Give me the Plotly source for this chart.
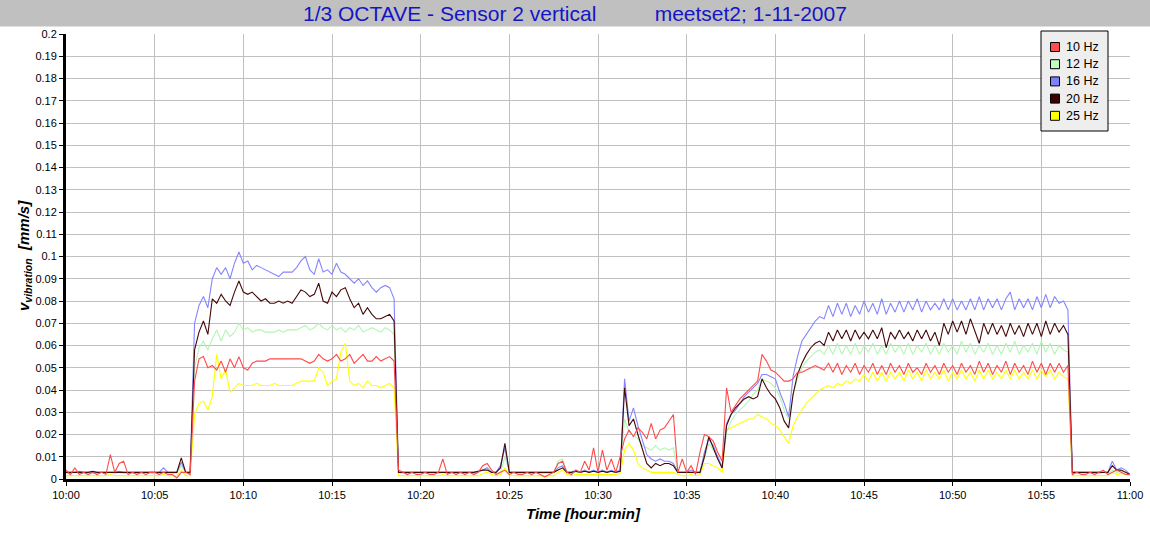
import plotly.graph_objects as go

# Sampling grid: one sample every 15 s, minutes after 10:00
N_SAMPLES = 241
t_min = [i * 0.25 for i in range(N_SAMPLES)]

x_tickvals = [0, 5, 10, 15, 20, 25, 30, 35, 40, 45, 50, 55, 60]
x_ticktext = ["10:00", "10:05", "10:10", "10:15", "10:20", "10:25", "10:30",
              "10:35", "10:40", "10:45", "10:50", "10:55", "11:00"]
y_tickvals = [round(i * 0.01, 2) for i in range(21)]
y_ticktext = ["0", "0.01", "0.02", "0.03", "0.04", "0.05", "0.06", "0.07", "0.08", "0.09",
              "0.1", "0.11", "0.12", "0.13", "0.14", "0.15", "0.16", "0.17", "0.18", "0.19", "0.2"]

series_names = ["10 Hz", "12 Hz", "16 Hz", "20 Hz", "25 Hz"]

# values in 0.001 mm/s
hz10 = [
    4, 2, 5, 2, 3, 2, 3, 2, 3, 2, 11, 3, 7, 8, 2, 3, 2, 3, 2, 3, 3, 2, 3, 2, 2, 0.5, 3, 3, 2,
    44, 54, 55, 50, 51, 49, 53, 48, 54, 50, 55, 50, 49, 52, 53, 53, 53, 54, 54, 54, 54, 54, 54, 54, 54,
    53, 52, 53, 56, 54, 53, 54, 56, 53, 54, 56, 52, 54, 56, 53, 53, 55, 53, 54, 55, 53,
    4, 3, 2, 3, 2, 2, 3, 2, 2, 3, 9, 2, 3, 2, 3, 2, 3, 2, 3, 6, 7, 4, 2, 3, 4, 2, 3, 2, 2, 3,
    2, 3, 2, 1, 2, 3, 7, 8, 3, 2, 4, 3, 8, 4, 14, 3, 13, 4, 9, 3, 10,
    18, 22, 19, 23, 21, 18, 25, 18, 22, 23, 26, 29, 3, 9, 3, 6, 2, 12, 20, 19,
    17, 12, 8, 41, 30, 33, 36, 38, 40, 42, 44, 56, 53, 49, 48, 46, 44, 44, 45, 48,
    48, 49, 50, 51, 50, 49, 52, 48, 52, 47, 51, 48, 52, 47, 51, 48, 52, 47, 51, 47,
    52, 48, 51, 47, 52, 48, 50, 47, 52, 48, 51, 47, 52, 48, 51, 47, 52, 48, 51, 47,
    53, 48, 52, 47, 51, 48, 53, 47, 52, 48, 51, 47, 53, 48, 52, 47, 52, 48, 52, 48, 51,
    2, 3, 2, 2, 3, 2, 3, 4, 2, 3, 4, 3, 2, 2,
]
hz12 = [
    2.5, 2.5, 3, 2.5, 2.5, 2, 2.5, 2.5, 3, 2.5, 3, 2.5, 3, 2.5, 2.5, 2.5, 2.5, 2.5, 3, 2.5,
    2.5, 2.5, 3.5, 2.5, 2.5, 2.5, 6, 3, 2.5,
    50, 59, 62, 58, 63, 67, 62, 67, 64, 66, 70, 67, 68, 66, 67, 67, 66, 66, 66, 67, 66, 67, 67, 67, 68,
    69, 67, 68, 70, 68, 67, 69, 67, 68, 66, 68, 67, 69, 66, 67, 68, 67, 66, 68, 67, 65,
    3, 2.5, 2.5, 2.5, 2.5, 2.5, 2.5, 2.5, 2.5, 2.5, 3, 2.5, 2.5, 2.5, 2.5, 2.5, 3, 2.5, 3, 4,
    5, 3, 2.5, 3, 10, 3, 2.5, 2.5, 2.5, 2.5, 2.5, 2.5, 2.5, 2.5, 2.5, 3, 8, 9, 3, 2.5,
    3, 3, 4, 3, 4, 3, 4, 3, 3.5, 3, 4,
    27, 21, 20, 18, 15, 14, 13, 15, 13, 14, 13, 14, 3, 3, 3, 3, 3, 2.5, 9, 16,
    13, 10, 6, 21, 26, 29, 31, 33, 35, 38, 40, 45, 44, 43, 41, 37, 31, 27, 38, 45,
    50, 53, 55, 57, 58, 56, 60, 56, 61, 56, 60, 56, 61, 56, 60, 57, 61, 56, 60, 56,
    61, 57, 60, 56, 61, 56, 60, 57, 61, 56, 60, 56, 61, 57, 60, 56, 62, 57, 61, 56,
    60, 57, 61, 56, 60, 56, 61, 57, 62, 56, 60, 57, 61, 56, 62, 57, 61, 56, 60, 58, 57,
    2.5, 2.5, 2.5, 2.5, 2.5, 2.5, 2.5, 3, 2.5, 4, 3, 3.5, 3, 2.5,
]
hz16 = [
    3, 3, 3, 3.5, 3, 3, 3, 3, 3, 3, 3, 3, 3.5, 3, 3, 3, 3, 3, 3, 3, 3, 3, 5, 3, 3, 3, 7.5, 3, 3,
    70, 78, 82, 77, 90, 95, 92, 95, 90, 97, 102, 97, 98, 94, 96, 95, 94, 93, 92, 91, 93, 93, 93, 95, 98,
    100, 94, 92, 99, 93, 94, 92, 97, 93, 92, 90, 88, 90, 87, 89, 86, 84, 86, 87, 86, 81,
    3, 3, 3, 3, 3, 3, 3, 3, 3, 3, 3, 3, 3, 3, 3, 3, 3, 3, 3.5, 4,
    5, 3, 3, 6, 14, 3, 3, 3, 3, 3, 3, 3, 3, 3, 3, 3, 5, 6, 3, 3,
    4, 3, 4, 3, 4, 3, 4, 3, 4, 3, 4,
    45, 26, 32, 24, 18, 11, 9, 8, 9, 8, 8, 7, 3, 3, 3, 4, 3, 3, 12, 18,
    15, 10, 5, 25, 29, 31, 34, 37, 39, 41, 43, 47, 47, 46, 45, 39, 34, 28, 46, 55,
    62, 65, 68, 71, 73, 72, 78, 73, 79, 74, 79, 73, 78, 74, 80, 75, 79, 74, 81, 74,
    79, 75, 80, 75, 80, 76, 81, 75, 80, 76, 79, 76, 81, 76, 81, 76, 80, 76, 81, 76,
    82, 76, 81, 77, 81, 76, 81, 84, 76, 81, 77, 81, 76, 82, 77, 83, 77, 82, 79, 80, 76,
    3, 3, 3, 3, 3, 3, 3, 3, 3, 8, 4, 5, 4, 2,
]
hz20 = [
    3, 3, 3, 3, 3, 3, 3.5, 3, 3, 3, 3, 3, 3, 3, 3, 3, 3, 3, 3, 3, 3, 3, 3, 3, 3, 3, 9.5, 3, 3,
    58, 66, 71, 65, 81, 79, 83, 80, 78, 84, 89, 84, 83, 84, 82, 80, 81, 79, 79, 80, 79, 80, 79, 82, 85,
    84, 82, 83, 88, 80, 79, 84, 82, 85, 86, 81, 77, 79, 74, 77, 74, 72, 72, 73, 74, 71,
    3, 3, 3, 3, 3, 3, 3, 3, 3, 3, 3, 3, 3, 3, 3, 3, 3, 3, 3.5, 4,
    4, 3, 3, 5, 16, 3, 3, 3, 3, 3, 3, 3, 3, 3, 3, 3, 4, 5, 3, 3,
    3.5, 3, 3.5, 3, 3.5, 3, 3.5, 3, 3.5, 3, 3.5,
    41, 24, 27, 20, 13, 7, 5, 7, 6, 7, 7, 6, 3, 3, 3, 3, 3, 3, 10, 19,
    14, 9, 5, 24, 29, 32, 34, 36, 37, 36, 37, 45, 41, 38, 36, 32, 26, 23, 38, 47,
    52, 56, 59, 61, 62, 60, 66, 62, 67, 63, 67, 62, 67, 63, 66, 63, 67, 63, 68, 59,
    66, 63, 67, 63, 66, 62, 67, 63, 67, 62, 66, 60, 70, 65, 71, 66, 71, 65, 72, 66,
    61, 70, 65, 70, 65, 69, 64, 70, 65, 69, 64, 70, 65, 70, 64, 71, 65, 70, 66, 69, 65,
    3, 3, 3, 3, 3, 3, 3, 3, 3, 6, 4, 4, 3, 2,
]
hz25 = [
    1.5, 1.5, 1.5, 1.5, 1.5, 1.5, 1.5, 1.5, 1.5, 1.5, 2, 1.5, 1.5, 1.5, 1.5, 1.5, 1.5, 1.5, 1.5, 1.5,
    1.5, 1.5, 2, 1.5, 1.5, 1.5, 4, 1.5, 1.5,
    29, 34, 35, 31, 37, 56, 45, 49, 39, 41, 43, 42, 42, 42, 43, 42, 42, 42, 43, 42, 42, 42, 42, 43, 44,
    44, 44, 44, 50, 48, 42, 44, 45, 57, 61, 44, 42, 43, 41, 44, 42, 42, 41, 42, 43, 41,
    1.5, 1.5, 1.5, 1.5, 1.5, 1.5, 1.5, 1.5, 1.5, 1.5, 2, 1.5, 1.5, 1.5, 1.5, 1.5, 1.5, 1.5, 1.5, 2.5,
    3, 2, 1.5, 2, 5, 2, 1.5, 1.5, 1.5, 1.5, 1.5, 1.5, 1.5, 1, 1.5, 1.5, 3, 4, 2, 1.5,
    2, 2, 2, 2, 2, 2, 2, 2, 2, 2, 2.5,
    13, 16, 13, 7, 5, 4, 3, 3, 3, 3, 3, 3, 2, 1.5, 1.5, 2, 1.5, 2, 7, 7,
    6, 5, 3, 22, 23, 24, 25, 26, 27, 27, 29, 28, 27, 25, 24, 22, 19, 16, 24, 28,
    31, 34, 36, 38, 40, 41, 42, 41, 43, 42, 44, 43, 45, 44, 47, 44, 48, 44, 48, 44,
    48, 45, 48, 44, 49, 45, 48, 44, 49, 45, 48, 45, 49, 44, 48, 45, 49, 45, 48, 44,
    49, 45, 49, 45, 48, 45, 49, 45, 49, 45, 48, 45, 49, 45, 49, 46, 49, 45, 48, 46, 45,
    1.5, 1.5, 1.5, 1.5, 1.5, 1.5, 1.5, 1.5, 1.5, 3, 2, 2.5, 2, 1.5,
]

all_series = [hz10, hz12, hz16, hz20, hz25]
assert all(len(s) == N_SAMPLES for s in all_series), [len(s) for s in all_series]

line_colors = ["#ff4a4a", "#b4f5b4", "#8585ff", "#450808", "#ffff00"]
legend_colors = ["#ff4d4d", "#c0ffc0", "#8080ff", "#3f0000", "#ffff00"]

FONT = "Liberation Sans, Arial, sans-serif"

# page-pixel -> paper coordinate helpers (plot area: x 66..1130, y 34..479)
L, R, T, B = 66, 1130, 34, 479


def px(xp):
    return (xp - L) / (R - L)


def py(yp):
    return (B - yp) / (B - T)


fig = go.Figure()

# drawing order: 25, 12, 16, 20, 10 (10 Hz on top)
for idx in [4, 1, 2, 3, 0]:
    fig.add_trace(go.Scatter(
        x=t_min, y=[v / 1000.0 for v in all_series[idx]],
        mode="lines", line=dict(color=line_colors[idx], width=1.1),
        name=series_names[idx], showlegend=False, hoverinfo="skip",
    ))

shapes = [
    # grey title band
    dict(type="rect", xref="paper", yref="paper",
         x0=px(-20), x1=px(1170), y0=py(26.5), y1=py(-20),
         fillcolor="#c0c0c0", line=dict(width=0), layer="below"),
    # legend box
    dict(type="rect", xref="paper", yref="paper",
         x0=px(1041), x1=px(1108), y0=py(131), y1=py(31),
         fillcolor="#eeeeee", line=dict(color="black", width=1), layer="above"),
]
annotations = [
    dict(
        text="1/3 OCTAVE - Sensor 2 vertical" + "\u00a0" * 10 + "meetset2; 1-11-2007",
        xref="paper", yref="paper", x=px(575), y=py(14),
        xanchor="center", yanchor="middle", showarrow=False,
        font=dict(family=FONT, size=21, color="#1414c8"),
    ),
    dict(
        text="<b><i>Time [hour:min]</i></b>",
        xref="paper", yref="paper", x=px(583), y=py(513),
        xanchor="center", yanchor="middle", showarrow=False,
        font=dict(family=FONT, size=15, color="black"),
    ),
    dict(
        text="<b><i>v<sub>vibration</sub>  [mm/s]</i></b>",
        xref="paper", yref="paper", x=px(25), y=py(256),
        xanchor="center", yanchor="middle", showarrow=False, textangle=-90,
        font=dict(family=FONT, size=15, color="black"),
    ),
]

# legend entries: square swatch + label
for k, name in enumerate(series_names):
    yc = 47 + k * 17.2
    shapes.append(dict(
        type="rect", xref="paper", yref="paper",
        x0=px(1050.5), x1=px(1059.5), y0=py(yc + 4.5), y1=py(yc - 4.5),
        fillcolor=legend_colors[k], line=dict(color="black", width=1), layer="above",
    ))
    annotations.append(dict(
        text=name, xref="paper", yref="paper", x=px(1064), y=py(yc),
        xanchor="left", yanchor="middle", showarrow=False,
        font=dict(family=FONT, size=12.5, color="black"),
    ))

fig.update_layout(
    width=1150, height=550,
    margin=dict(l=L, r=1150 - R, t=T, b=550 - B, autoexpand=False),
    paper_bgcolor="white", plot_bgcolor="white",
    font=dict(family=FONT, size=11, color="black"),
    showlegend=False,
    xaxis=dict(
        range=[0, 60], tickmode="array", tickvals=x_tickvals, ticktext=x_ticktext,
        showgrid=True, gridcolor="#c0c0c0", gridwidth=1, zeroline=False,
        showline=True, linecolor="black", linewidth=3,
        ticks="outside", ticklen=4, tickcolor="black", tickwidth=1,
        tickfont=dict(family=FONT, size=11, color="black"),
    ),
    yaxis=dict(
        range=[0, 0.2], tickmode="array", tickvals=y_tickvals, ticktext=y_ticktext,
        showgrid=True, gridcolor="#c0c0c0", gridwidth=1, zeroline=False,
        showline=True, linecolor="black", linewidth=3,
        ticks="outside", ticklen=4, tickcolor="black", tickwidth=1,
        tickfont=dict(family=FONT, size=11, color="black"),
    ),
    shapes=shapes,
    annotations=annotations,
)

fig.write_html(
    "out.html",
    config={"displayModeBar": False},
    post_script="document.body.style.margin='0';document.body.style.overflow='hidden';",
)
